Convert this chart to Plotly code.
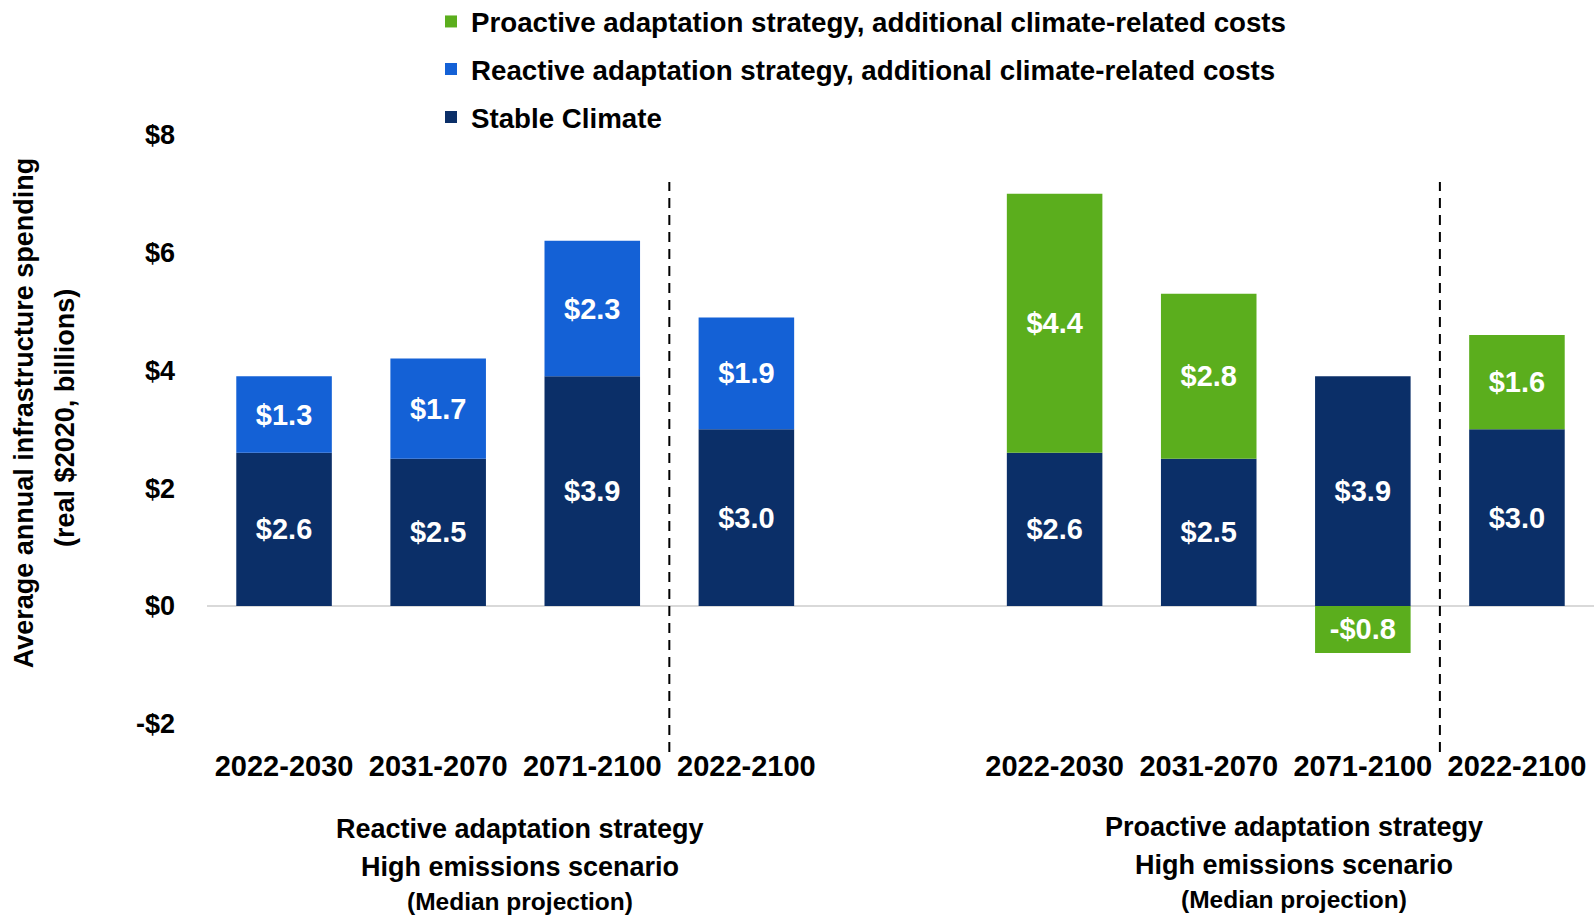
import plotly.graph_objects as go

# ---------------- data ----------------
periods = ["2022-2030", "2031-2070", "2071-2100", "2022-2100"]
reactive_slots = [0, 1, 2, 3]
proactive_slots = [5, 6, 7, 8]

stable_reactive = [2.6, 2.5, 3.9, 3.0]
reactive_extra = [1.3, 1.7, 2.3, 1.9]
stable_proactive = [2.6, 2.5, 3.9, 3.0]
proactive_extra = [4.4, 2.8, -0.8, 1.6]

series_names = [
    "Stable Climate",
    "Reactive adaptation strategy, additional climate-related costs",
    "Proactive adaptation strategy, additional climate-related costs",
]
colors = ["#0B2F68", "#1461D6", "#5BAE1D"]

group_lines_left = ["Reactive adaptation strategy", "High emissions scenario", "(Median projection)"]
group_lines_right = ["Proactive adaptation strategy", "High emissions scenario", "(Median projection)"]

y_ticks = [-2, 0, 2, 4, 6, 8]
y_title_lines = ["Average annual infrastructure spending", "(real $2020, billions)"]

FONT = "Liberation Sans, Arial, sans-serif"


def money(v):
    return f"-${abs(v):.1f}" if v < 0 else f"${v:.1f}"


fig = go.Figure()

bar_kw = dict(
    width=0.62,
    textposition="inside",
    insidetextanchor="middle",
    textangle=0,
    constraintext="none",
    textfont=dict(family=FONT, size=29, color="white", weight="bold"),
    marker_line_width=0,
    hoverinfo="skip",
)

fig.add_trace(go.Bar(
    x=reactive_slots + proactive_slots,
    y=stable_reactive + stable_proactive,
    text=[money(v) for v in stable_reactive + stable_proactive],
    name=series_names[0], marker_color=colors[0], legend="legend3", **bar_kw))
fig.add_trace(go.Bar(
    x=reactive_slots, y=reactive_extra,
    text=[money(v) for v in reactive_extra],
    name=series_names[1], marker_color=colors[1], legend="legend2", **bar_kw))
fig.add_trace(go.Bar(
    x=proactive_slots, y=proactive_extra,
    text=[money(v) for v in proactive_extra],
    name=series_names[2], marker_color=colors[2], legend="legend", **bar_kw))

# dashed separators between period groups
for xs in (2.5, 7.5):
    fig.add_shape(type="line", xref="x", yref="paper", x0=xs, x1=xs, y0=-0.0097, y1=0.914,
                  line=dict(color="black", width=2, dash="10px,7px"), layer="above")

leg_common = dict(xanchor="left", yanchor="middle", x=0.1615,
                  bgcolor="rgba(0,0,0,0)",
                  font=dict(family=FONT, size=27.7, color="black", weight="bold"))

annotations = []
for i, (yp, txt) in enumerate(zip([0.5398, 0.5317], y_title_lines)):
    annotations.append(dict(
        xref="paper", yref="paper", x=[-0.1317, -0.1024][i], y=yp,
        text=txt, textangle=-90, showarrow=False, xanchor="center", yanchor="middle",
        font=dict(family=FONT, size=27, color="black", weight="bold")))

for lines, xc, ys in ((group_lines_left, 1.528, [-0.1353, -0.1959, -0.2521]),
                      (group_lines_right, 6.556, [-0.1319, -0.1927, -0.2494])):
    for j, (txt, yp) in enumerate(zip(lines, ys)):
        annotations.append(dict(
            xref="x", yref="paper", x=xc, y=yp, text=txt, showarrow=False,
            xanchor="center", yanchor="middle",
            font=dict(family=FONT, size=27 if j < 2 else 24.5, color="black", weight="bold")))

fig.update_layout(
    width=1594, height=916,
    margin=dict(l=207, r=0, t=129, b=170, autoexpand=False),
    paper_bgcolor="white", plot_bgcolor="white",
    barmode="relative",
    showlegend=True,
    legend=dict(y=1.1735, **leg_common),
    legend2=dict(y=1.0964, **leg_common),
    legend3=dict(y=1.0186, **leg_common),
    annotations=annotations,
    xaxis=dict(
        range=[-0.5, 8.5],
        tickmode="array",
        tickvals=reactive_slots + proactive_slots,
        ticktext=periods + periods,
        showgrid=False, zeroline=False, showline=False, ticks="",
        tickfont=dict(family=FONT, size=29, color="black", weight="bold"),
    ),
    yaxis=dict(
        range=[-2.38, 8.1],
        tickmode="array",
        tickvals=y_ticks,
        ticktext=[money(v).replace(".0", "") for v in y_ticks],
        showgrid=False, showline=False, ticks="",
        zeroline=True, zerolinecolor="#D9D9D9", zerolinewidth=2,
        ticklabelstandoff=31,
        tickfont=dict(family=FONT, size=27, color="black", weight="bold"),
    ),
)

fig.write_html("out.html", config={"displayModeBar": False},
               post_script="document.body.style.margin='0';")
